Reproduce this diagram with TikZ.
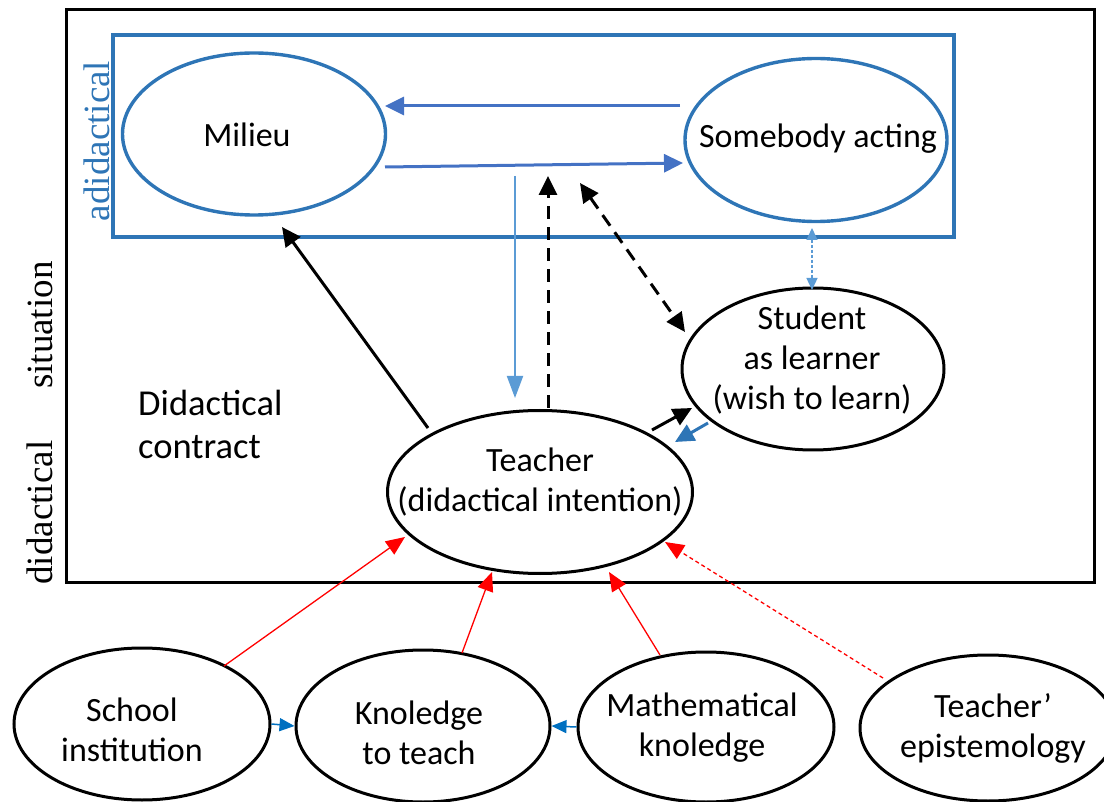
\documentclass[tikz,border=0pt]{standalone}
\usepackage{fontspec}
\setmainfont{Carlito}
\newfontfamily\labelserif{Liberation Serif}
\usetikzlibrary{arrows.meta,shapes.geometric,calc}

\definecolor{boxblue}{HTML}{2E75B6}
\definecolor{flowblue}{HTML}{4472C4}
\definecolor{lightblue}{HTML}{5B9BD5}
\definecolor{linkblue}{HTML}{0070C0}
\definecolor{redarrow}{HTML}{FF0000}

\begin{document}
\begin{tikzpicture}[x=1pt,y=-1pt,
  txt/.style={font=\fontsize{34}{40}\selectfont, align=center, inner sep=0pt},
  oval/.style={ellipse, draw, line width=3pt, inner sep=0pt},
  blueoval/.style={oval, draw=boxblue, line width=3.4pt},
  bigtip/.style={-{Triangle[length=19pt,width=18pt]}},
  flow/.style={bigtip, draw=flowblue, line width=3pt},
  dark/.style={bigtip, draw=black, line width=3pt},
  darkdash/.style={dark, dash pattern=on 13pt off 8pt},
  feed/.style={-{Triangle[length=22pt,width=16pt]}, draw=lightblue, line width=2pt},
  redlink/.style={-{Triangle[length=19pt,width=16pt]}, draw=redarrow, line width=1.3pt},
  bluelink/.style={-{Triangle[length=15pt,width=13pt]}, draw=linkblue, line width=1.5pt},
  vlabel/.style={rotate=90, font=\labelserif\fontsize{37}{40}\selectfont, inner sep=0pt}
]
\useasboundingbox (0,0) rectangle (1104,802);

% frames
\draw[line width=3pt] (66,10) rectangle (1094,582);
\draw[boxblue, line width=3.2pt] (113,35) rectangle (954,237);

% side labels
\node[vlabel] (situation) at (40,423) {didactical\hspace{1.4em}situation};
\node[vlabel, text=boxblue] (adidactical) at (97,141) {adidactical};
\node[txt, font=\fontsize{36.5}{43}\selectfont, anchor=north west, align=left] (contract) at (138,390) {Didactical\\contract};

% main ovals
\node[blueoval, minimum width=263pt, minimum height=162pt] (milieu) at (254,134) {};
\node[blueoval, minimum width=262pt, minimum height=163pt] (somebody) at (816,140) {};
\node[oval, minimum width=262pt, minimum height=162pt] (student) at (813,369) {};
\node[oval, minimum width=305pt, minimum height=163pt] (teacher) at (540,492) {};

\node[txt] (milieu-text) at (247,135) {Milieu};
\node[txt] (somebody-text) at (818,139) {Somebody acting};
\node[txt] (student-text) at (812,360) {Student\\as learner\\(wish to learn)};
\node[txt] (teacher-text) at (540,482) {Teacher\\(didactical intention)};

% lower ovals
\node[oval, minimum width=256pt, minimum height=152pt] (school) at (142,724) {};
\node[oval, minimum width=254pt, minimum height=152pt] (know) at (423,726) {};
\node[oval, minimum width=256pt, minimum height=150pt] (math) at (706,727) {};
\node[oval, minimum width=256pt, minimum height=146pt] (epist) at (988,728) {};

\node[txt] (school-text) at (132,730) {School\\institution};
\node[txt] (know-text) at (419,733) {Knoledge\\to teach};
\node[txt] (math-text) at (702,728) {Mathematical\\knoledge};
\node[txt] (epist-text) at (993,728) {Teacher'\\epistemology};

% free ends just under the milieu--somebody exchange
\coordinate (feedtop) at (515,176);
\coordinate (intenttop) at (548,176);
\coordinate (learntop) at (580,183);

% milieu <-> somebody acting
\draw[flow] ($(somebody.center)+(-136,-34)$) -- ($(milieu.center)+(131,-28)$);
\draw[flow] ($(milieu.center)+(131,33)$) -- ($(somebody.center)+(-133,23)$);

% exchanges with the teacher
\draw[feed] (feedtop) -- ($(teacher.center)+(-25,-94)$);
\draw[darkdash] ($(teacher.center)+(8,-84)$) -- (intenttop);
\draw[darkdash, {Triangle[length=19pt,width=18pt]}-{Triangle[length=19pt,width=18pt]}] (learntop) -- ($(student.center)+(-128,-37)$);
\draw[{Triangle[length=12pt,width=11pt]}-{Triangle[length=12pt,width=11pt]}, draw=lightblue, line width=1.3pt, dash pattern=on 3pt off 2pt]
  ($(student.center)+(-1,-141)$) -- ($(student.center)+(-1,-79)$);
\draw[dark] ($(teacher.center)+(-112,-64)$) -- ($(milieu.center)+(28,93)$);
\draw[dark] ($(teacher.center)+(112,-62)$) -- ($(student.center)+(-121,39)$);
\draw[bigtip, draw=boxblue, line width=3pt] ($(student.center)+(-105,54)$) -- ($(teacher.center)+(135,-50)$);

% influences on the teacher
\draw[redlink] ($(school.center)+(82,-58)$) -- ($(teacher.center)+(-135,45)$);
\draw[redlink] ($(know.center)+(39,-73)$) -- ($(teacher.center)+(-48,80)$);
\draw[redlink] ($(math.center)+(-46,-72)$) -- ($(teacher.center)+(69,80)$);
\draw[redlink, dash pattern=on 4pt off 3pt] ($(epist.center)+(-105,-50)$) -- ($(teacher.center)+(125,50)$);

% links between the lower ovals
\draw[bluelink] (school.east) -- (know.west);
\draw[bluelink] (math.west) -- (know.east);
\end{tikzpicture}
\end{document}
